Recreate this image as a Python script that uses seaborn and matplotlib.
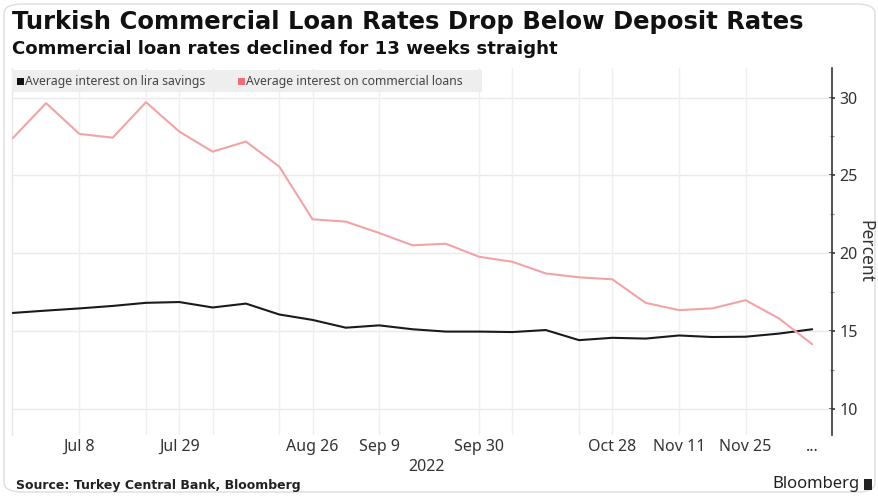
import matplotlib
matplotlib.use("Agg")
import matplotlib.pyplot as plt
from matplotlib.patches import FancyBboxPatch, Rectangle
import pandas as pd
import seaborn as sns

# ---- data ----
dates = ["2022-06-24", "2022-07-01", "2022-07-08", "2022-07-15", "2022-07-22",
         "2022-07-29", "2022-08-05", "2022-08-12", "2022-08-19", "2022-08-26",
         "2022-09-02", "2022-09-09", "2022-09-16", "2022-09-23", "2022-09-30",
         "2022-10-07", "2022-10-14", "2022-10-21", "2022-10-28", "2022-11-04",
         "2022-11-11", "2022-11-18", "2022-11-25", "2022-12-02", "2022-12-09"]
lira_savings = [16.15, 16.3, 16.44, 16.6, 16.8, 16.85, 16.5, 16.75, 16.05, 15.7,
                15.2, 15.35, 15.1, 14.95, 14.95, 14.92, 15.05, 14.4, 14.55, 14.5,
                14.7, 14.6, 14.62, 14.82, 15.1]
commercial_loans = [27.39, 29.64, 27.66, 27.42, 29.7, 27.81, 26.52, 27.17, 25.56, 22.17,
                    22.02, 21.29, 20.5, 20.6, 19.76, 19.44, 18.69, 18.44, 18.31, 16.8,
                    16.33, 16.44, 16.97, 15.8, 14.14]
series_names = ["Average interest on lira savings", "Average interest on commercial loans"]
tick_dates = ["2022-07-08", "2022-07-29", "2022-08-26", "2022-09-09", "2022-09-30",
              "2022-10-28", "2022-11-11", "2022-11-25", "2022-12-09"]
tick_labels = ["Jul 8", "Jul 29", "Aug 26", "Sep 9", "Sep 30", "Oct 28", "Nov 11", "Nov 25", "..."]
vgrid_dates = ["2022-07-08", "2022-07-22", "2022-07-29", "2022-08-05", "2022-08-19",
               "2022-08-26", "2022-09-09", "2022-09-30", "2022-10-07", "2022-10-21",
               "2022-10-28", "2022-11-11", "2022-11-25"]
y_ticks = [10, 15, 20, 25, 30]

title = "Turkish Commercial Loan Rates Drop Below Deposit Rates"
subtitle = "Commercial loan rates declined for 13 weeks straight"
source = "Source: Turkey Central Bank, Bloomberg"

colors = ["#1a1a1a", "#f2a3a6"]
legend_colors = ["#111111", "#ee6f78"]

# ---- build frame ----
dt = pd.to_datetime(dates)
df = pd.DataFrame({
    "date": list(dt) * 2,
    "value": lira_savings + commercial_loans,
    "series": [series_names[0]] * len(dates) + [series_names[1]] * len(dates),
})

sns.set_theme(style="white")
plt.rcParams["font.family"] = ["Noto Sans", "DejaVu Sans"]
BOLD = ["DejaVu Sans"]

W, H = 879, 496
fig = plt.figure(figsize=(W / 100, H / 100), dpi=100)
fig.patch.set_facecolor("white")
renderer = fig.canvas.get_renderer()


def fit_text(x, y, s, width_px, size0, **kw):
    t = fig.text(x, y, s, fontsize=size0, **kw)
    w = t.get_window_extent(renderer=renderer).width
    t.set_fontsize(size0 * width_px / w)
    return t


# rounded outer frame
frame = FancyBboxPatch((4 / W, 4 / H), 1 - 8 / W, 1 - 8 / H,
                       boxstyle="round,pad=0,rounding_size=0.02",
                       transform=fig.transFigure, facecolor="white",
                       edgecolor="#dddddd", linewidth=1.0, zorder=-10)
fig.patches.append(frame)

ax = fig.add_axes([12 / W, 1 - 435 / H, 820 / W, 367 / H])
ax.set_facecolor("white")

sns.lineplot(data=df, x="date", y="value", hue="series",
             palette=dict(zip(series_names, colors)), linewidth=1.5,
             legend=False, ax=ax, zorder=3)

x0 = pd.Timestamp("2022-06-23 20:00")
x1 = pd.Timestamp("2022-12-13 04:00")
ax.set_xlim(x0, x1)
ax.set_ylim(8.3, 31.9)

# grids
for yv in y_ticks:
    ax.axhline(yv, color="#eaeaea", linewidth=1.0, zorder=1)
for d in vgrid_dates:
    ax.axvline(pd.Timestamp(d), color="#efefef", linewidth=1.0, zorder=1)

# axes styling
for s in ["top", "bottom"]:
    ax.spines[s].set_visible(False)
ax.spines["left"].set_color("#e6e6e6")
ax.spines["left"].set_linewidth(1.0)
ax.spines["right"].set_color("#333333")
ax.spines["right"].set_linewidth(1.2)

ax.yaxis.tick_right()
ax.yaxis.set_label_position("right")
ax.set_yticks(y_ticks)
ax.set_yticklabels([str(v) for v in y_ticks])
ax.set_yticks([12.5, 17.5, 22.5, 27.5], minor=True)
ax.tick_params(axis="y", which="major", direction="inout", length=5, width=1.2,
               color="#333333", labelsize=11.5, labelcolor="#333333", pad=3, right=True, left=False)
ax.tick_params(axis="y", which="minor", direction="inout", length=3, width=0.8,
               color="#888888", right=True, left=False)
ax.set_ylabel("Percent", rotation=270, fontsize=12.5, color="#333333", labelpad=12)

ax.set_xticks(pd.to_datetime(tick_dates))
ax.set_xticklabels(tick_labels)
ax.tick_params(axis="x", length=0, labelsize=11.5, labelcolor="#333333", pad=3)
ax.set_xlabel("")

# year label
ax.text(pd.Timestamp("2022-09-19"), -0.065, "2022", transform=ax.get_xaxis_transform(),
        ha="center", va="top", fontsize=11.5, color="#333333")

# legend bar
legend_bg = Rectangle((12 / W, 1 - 92 / H), 470 / W, 22 / H, transform=fig.transFigure,
                      facecolor="#eeeeee", edgecolor="none", zorder=5)
fig.patches.append(legend_bg)
lx = [17, 238]
for i, name in enumerate(series_names):
    fig.patches.append(Rectangle((lx[i] / W, 1 - 85 / H), 7 / W, 7 / H,
                                 transform=fig.transFigure, facecolor=legend_colors[i],
                                 edgecolor="none", zorder=6))
    fig.text((lx[i] + 8) / W, 1 - 81.5 / H, name, fontsize=8.8, color="#444444",
             ha="left", va="center", zorder=7)

# titles
fit_text(12 / W, 1 - 22 / H, title, 796, 18, fontweight="bold", family=BOLD,
         color="#111111", ha="left", va="center")
fit_text(12 / W, 1 - 49 / H, subtitle, 544, 13, fontweight="bold", family=BOLD,
         color="#111111", ha="left", va="center")
fit_text(16 / W, 1 - 486 / H, source, 284, 9, fontweight="bold", family=BOLD,
         color="#222222", ha="left", va="center")
fig.text(860 / W, 1 - 484 / H, "Bloomberg", fontsize=12, color="#222222",
         ha="right", va="center")
fig.patches.append(Rectangle((864 / W, 1 - 490 / H), 8 / W, 11 / H, transform=fig.transFigure,
                             facecolor="#222222", edgecolor="none"))

fig.savefig("out.png", dpi=100, facecolor="white")
